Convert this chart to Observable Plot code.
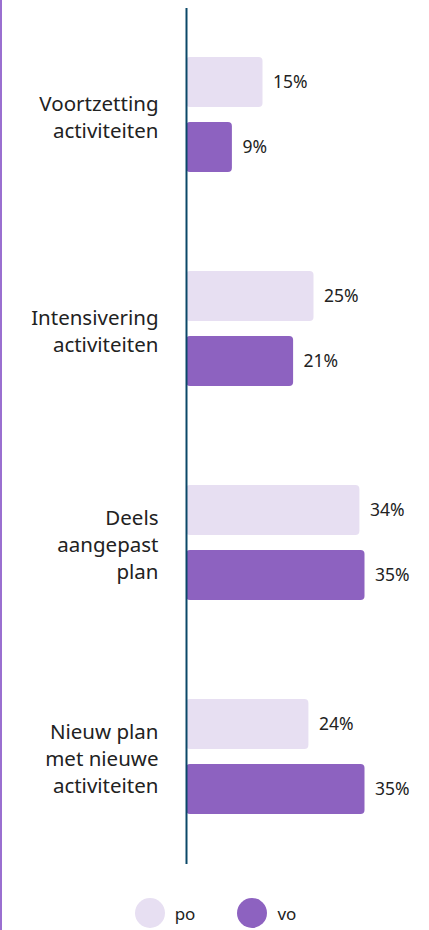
<!DOCTYPE html>
<html>
<head>
<meta charset="utf-8">
<script src="https://cdn.jsdelivr.net/npm/d3@7"></script>
<script src="https://cdn.jsdelivr.net/npm/@observablehq/plot@0.6"></script>
<style>
  html, body { margin: 0; padding: 0; background: #fff; }
  #wrap { width: 429px; height: 930px; box-sizing: border-box; border-left: 2px solid #9a6fd0; font-family: "Noto Sans", sans-serif; }
  #legend { display: flex; justify-content: center; align-items: center; margin-top: 18px; font-size: 17px; color: #222; }
  .item { display: flex; align-items: center; margin: 0 21px; }
  .dot { width: 30px; height: 30px; border-radius: 50%; margin-right: 10px; }
</style>
</head>
<body>
<div id="wrap"><div id="chart"></div><div id="legend"></div></div>
<script>
const categories = ["Voortzetting activiteiten", "Intensivering activiteiten", "Deels aangepast plan", "Nieuw plan met nieuwe activiteiten"];
const categoryLabels = ["Voortzetting\nactiviteiten", "Intensivering\nactiviteiten", "Deels\naangepast\nplan", "Nieuw plan\nmet nieuwe\nactiviteiten"];
const series = ["po", "vo"];
const poValues = [15, 25, 34, 24];
const voValues = [9, 21, 35, 35];
const colors = ["#e7dff2", "#8d62c0"];

const data = [];
categories.forEach((c, i) => {
  data.push({category: c, series: "po", value: poValues[i]});
  data.push({category: c, series: "vo", value: voValues[i]});
});
const labelOf = new Map(categories.map((c, i) => [c, categoryLabels[i]]));

const chart = Plot.plot({
  width: 427,
  height: 880,
  marginLeft: 184,
  marginRight: 39,
  marginTop: 8,
  marginBottom: 16,
  style: {fontFamily: "'Noto Sans', sans-serif", color: "#222"},
  x: {domain: [0, 40], axis: null},
  y: {domain: series, axis: null, paddingInner: 0.23, paddingOuter: 0.76},
  fy: {domain: categories, axis: null, padding: 0},
  color: {domain: series, range: colors},
  marks: [
    Plot.barX(data, {fy: "category", y: "series", x: "value", fill: "series", rx: 4}),
    Plot.text(data, {fy: "category", y: "series", x: "value", text: d => d.value + "%", dx: 10, textAnchor: "start", fontSize: 17.5, fill: "#222"}),
    Plot.text(categories, {fy: d => d, x: 0, text: d => labelOf.get(d), dx: -28, textAnchor: "end", fontSize: 20.5, lineHeight: 1.32, fill: "#222"}),
    Plot.ruleX([0], {stroke: "#0b4868", strokeWidth: 2})
  ]
});
document.getElementById("chart").appendChild(chart);

const legend = document.getElementById("legend");
series.forEach((s, i) => {
  const item = document.createElement("div");
  item.className = "item";
  const dot = document.createElement("div");
  dot.className = "dot";
  dot.style.background = colors[i];
  const label = document.createElement("span");
  label.textContent = s;
  item.appendChild(dot);
  item.appendChild(label);
  legend.appendChild(item);
});
</script>
</body>
</html>
